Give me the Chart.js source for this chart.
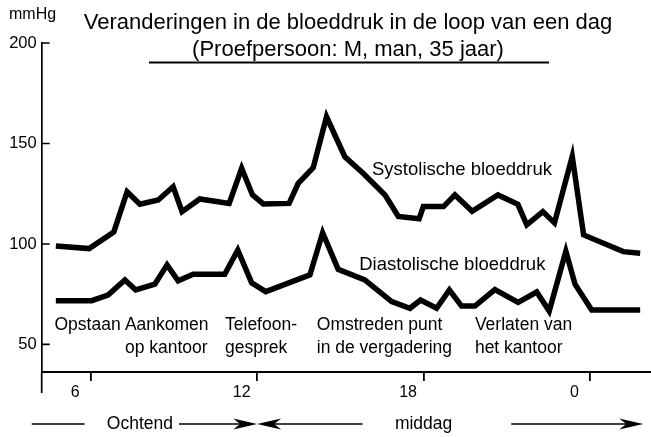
<!DOCTYPE html>
<html>
<head>
<meta charset="utf-8">
<script src="https://cdn.jsdelivr.net/npm/chart.js@4/dist/chart.umd.min.js"></script>
<style>
  html, body { margin: 0; padding: 0; background: #fff; }
  canvas { display: block; }
</style>
</head>
<body>
<canvas id="c" width="651" height="437"></canvas>
<script>
// ---- data ----
const hoursSys = [4.74, 5.94, 6.83, 7.31, 7.77, 8.43, 8.97, 9.29, 9.93, 10.99, 11.44, 11.83, 12.22, 13.15, 13.48, 14.02, 14.50, 15.16, 15.82, 16.61, 17.09, 17.84, 17.99, 18.72, 19.13, 19.75, 20.68, 21.40, 21.72, 22.30, 22.72, 23.36, 23.77, 25.20, 25.81];
const systolic = [99, 97.7, 106, 126, 119.8, 121.9, 128.5, 116.1, 122.4, 120.2, 137.7, 124.4, 119.9, 120.2, 130.2, 138, 163.3, 143.4, 135.2, 124.4, 113.7, 112.5, 118.6, 118.6, 124.4, 116.3, 124.4, 119.7, 109.5, 116.1, 110.5, 143.6, 104.5, 96.2, 95.4];
const hoursDia = [4.74, 6.03, 6.62, 7.23, 7.62, 8.31, 8.75, 9.15, 9.69, 10.83, 11.30, 11.80, 12.31, 13.90, 14.36, 14.92, 15.88, 16.85, 17.51, 17.89, 18.47, 18.93, 19.37, 19.85, 20.57, 21.41, 22.08, 22.53, 23.13, 23.46, 24.06, 25.81];
const diastolic = [71.8, 71.8, 74.6, 82.1, 77.1, 80, 89.6, 81.7, 84.9, 84.9, 97, 80.7, 76.3, 84.6, 105.6, 87.4, 82.1, 71.3, 68, 72.1, 68, 77.1, 69.1, 69.1, 77.3, 70.9, 76.1, 66.6, 96.4, 80, 67.2, 67.2];

const xTickValues = [6, 12, 18, 24];
const xTickLabels = ['6', '12', '18', '0'];
const yTickValues = [50, 100, 150, 200];
const yTickLabels = ['50', '100', '150', '200'];

const seriesNames = ['Systolische bloeddruk', 'Diastolische bloeddruk'];
const titleLines = ['Veranderingen in de bloeddruk in de loop van een dag', '(Proefpersoon: M, man, 35 jaar)'];
const unitLabel = 'mmHg';
// events: [hour of left edge, line 1, line 2]
const eventHours = [4.69, 7.23, 10.84, 14.15, 19.85];
const eventLine1 = ['Opstaan', 'Aankomen', 'Telefoon-', 'Omstreden punt', 'Verlaten van'];
const eventLine2 = ['', 'op kantoor', 'gesprek', 'in de vergadering', 'het kantoor'];
const periodNames = ['Ochtend', 'middag'];

// ---- chart ----
const FONT = '"Liberation Sans", Arial, Helvetica, sans-serif';
const toPts = (xs, ys) => xs.map((x, i) => ({ x: x, y: ys[i] }));

const decor = {
  id: 'decor',
  afterDraw(chart) {
    const ctx = chart.ctx;
    const xs = chart.scales.x, ys = chart.scales.y;
    const ca = chart.chartArea;
    ctx.save();
    ctx.fillStyle = '#000';
    ctx.strokeStyle = '#000';

    // title
    ctx.font = '22px ' + FONT;
    ctx.textAlign = 'center';
    ctx.textBaseline = 'middle';
    ctx.fillText(titleLines[0], 348, 23);
    ctx.fillText(titleLines[1], 348, 50);
    ctx.lineWidth = 2;
    ctx.beginPath();
    ctx.moveTo(149, 62.5); ctx.lineTo(549, 62.5);
    ctx.stroke();

    // unit
    ctx.font = '16px ' + FONT;
    ctx.textAlign = 'left';
    ctx.fillText(unitLabel, 9, 15);

    // y axis extension below x axis and inward ticks
    ctx.lineWidth = 1.7;
    ctx.beginPath();
    ctx.moveTo(ca.left, ca.bottom); ctx.lineTo(ca.left, 393);
    yTickValues.forEach(v => {
      const y = ys.getPixelForValue(v);
      ctx.moveTo(ca.left, y); ctx.lineTo(ca.left + 8, y);
    });
    ctx.stroke();

    // series labels
    ctx.font = '18.5px ' + FONT;
    ctx.textAlign = 'left';
    ctx.fillText(seriesNames[0], xs.getPixelForValue(16.14), ys.getPixelForValue(136.8));
    ctx.fillText(seriesNames[1], xs.getPixelForValue(15.68), ys.getPixelForValue(89.5));

    // event labels
    ctx.font = '17.5px ' + FONT;
    eventHours.forEach((h, i) => {
      const x = xs.getPixelForValue(h);
      ctx.fillText(eventLine1[i], x, ys.getPixelForValue(59.7));
      if (eventLine2[i]) ctx.fillText(eventLine2[i], x, ys.getPixelForValue(48.3));
    });

    // period row
    const yRow = 424;
    ctx.textAlign = 'center';
    ctx.fillText(periodNames[0], xs.getPixelForValue(7.77), yRow);
    ctx.fillText(periodNames[1], xs.getPixelForValue(18.0), yRow);
    ctx.lineWidth = 1.4;
    const seg = (h1, h2) => {
      ctx.beginPath();
      ctx.moveTo(xs.getPixelForValue(h1), yRow);
      ctx.lineTo(xs.getPixelForValue(h2), yRow);
      ctx.stroke();
    };
    const head = (tipX, dir) => {
      const L = 24, W = 5.5, N = 17;
      ctx.beginPath();
      ctx.moveTo(tipX, yRow);
      ctx.lineTo(tipX - dir * L, yRow - W);
      ctx.lineTo(tipX - dir * N, yRow);
      ctx.lineTo(tipX - dir * L, yRow + W);
      ctx.closePath();
      ctx.fill();
    };
    seg(3.87, 5.78);
    seg(9.18, 11.5);
    head(xs.getPixelForValue(12), 1);
    seg(12.5, 15.8);
    head(xs.getPixelForValue(12), -1);
    seg(21.16, 25.6);
    head(xs.getPixelForValue(25.92), 1);
    ctx.restore();
  }
};

new Chart(document.getElementById('c'), {
  type: 'line',
  data: {
    datasets: [
      { label: seriesNames[0], data: toPts(hoursSys, systolic), borderColor: '#000', borderWidth: 5.5, pointRadius: 0, tension: 0, borderJoinStyle: 'miter', borderCapStyle: 'butt', fill: false },
      { label: seriesNames[1], data: toPts(hoursDia, diastolic), borderColor: '#000', borderWidth: 5.5, pointRadius: 0, tension: 0, borderJoinStyle: 'miter', borderCapStyle: 'butt', fill: false }
    ]
  },
  options: {
    responsive: false,
    animation: false,
    devicePixelRatio: 1,
    layout: { padding: { top: 43, left: 0, right: 0, bottom: 0 } },
    plugins: { legend: { display: false }, tooltip: { enabled: false }, title: { display: false } },
    scales: {
      x: {
        type: 'linear', min: 4.23, max: 26.2,
        afterBuildTicks: s => { s.ticks = xTickValues.map(v => ({ value: v })); },
        afterFit: s => { s.height = 65; },
        ticks: {
          callback: (v) => xTickLabels[xTickValues.indexOf(v)],
          labelOffset: -15.5, padding: 2, maxRotation: 0, autoSkip: false,
          color: '#000', font: { family: FONT, size: 16 }
        },
        grid: { drawOnChartArea: false, drawTicks: true, tickLength: 9, color: '#000', lineWidth: 1.8 },
        border: { display: true, color: '#000', width: 2 }
      },
      y: {
        type: 'linear', min: 36.3, max: 200,
        afterBuildTicks: s => { s.ticks = yTickValues.map(v => ({ value: v })); },
        afterFit: s => { s.width = 41.7; },
        ticks: {
          callback: (v) => yTickLabels[yTickValues.indexOf(v)],
          padding: 5, color: '#000', font: { family: FONT, size: 16.5 }
        },
        grid: { drawOnChartArea: false, drawTicks: false },
        border: { display: true, color: '#000', width: 1.7 }
      }
    }
  },
  plugins: [decor]
});
</script>
</body>
</html>
